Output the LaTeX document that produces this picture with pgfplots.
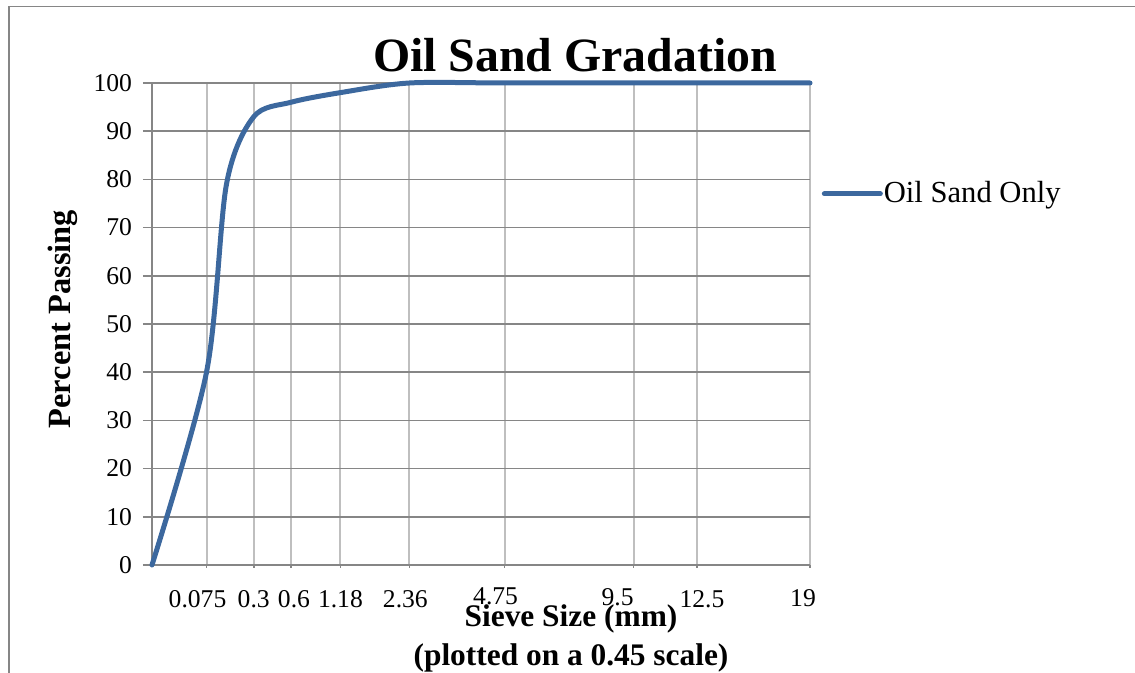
\documentclass[border=0pt]{standalone}
\usepackage{fontspec}
\setmainfont{Liberation Serif}
\usepackage{pgfplots}
\pgfplotsset{compat=1.18}
\definecolor{series}{RGB}{60,104,158}
\definecolor{gridH}{RGB}{134,134,134}
\definecolor{gridV}{RGB}{191,191,191}
% tick label nudged sideways by #1 and up by #2
\newcommand{\tl}[3]{\makebox[0pt]{\hspace{#1}\raisebox{#2}{#3}}}

\begin{document}
\begin{tikzpicture}
\useasboundingbox (0,0) rectangle (567.5pt,336.5pt);
% outer chart frame
\draw[gridH, line width=0.7pt] (4.5pt,0) -- (4.5pt,333.2pt) -- (567.5pt,333.2pt);
\begin{axis}[
  at={(76pt,54pt)}, anchor=south west,
  width=329pt, height=241pt, scale only axis,
  clip=false,
  xmin=0, xmax=3.76223, ymin=0, ymax=100,
  axis x line*=bottom, axis y line*=left,
  axis line style={-, gridH, line width=0.8pt},
  % sieve sizes placed at d^0.45
  xtick={0.31172,0.58172,0.79466,1.07733,1.47168,2.01613,2.75410,3.11609,3.76223},
  xticklabels={\tl{-9pt}{0pt}{0.075},\tl{0pt}{0pt}{0.3},\tl{3pt}{0pt}{0.6},
    \tl{0pt}{0pt}{1.18},\tl{-4pt}{0pt}{2.36},\tl{-9pt}{1.5pt}{4.75},
    \tl{-16pt}{1.2pt}{9.5},\tl{5pt}{0pt}{12.5},\tl{-7pt}{0.5pt}{19}},
  ytick={0,10,...,100},
  xmajorgrids, ymajorgrids,
  major x grid style={gridV, line width=1pt},
  major y grid style={gridH, line width=0.8pt},
  tick align=outside,
  major tick length=4.5pt,
  tick style={gridH, line width=0.8pt},
  xtick style={/pgfplots/major tick length=1.5pt},
  /pgf/number format/assume math mode=true,
  ticklabel style={font=\fontsize{12.8}{15}\selectfont},
  xticklabel style={anchor=base, yshift=-17pt},
  yticklabel style={xshift=-2pt},
  title={Oil Sand Gradation},
  title style={at={(axis description cs:0.6429,0.998)}, anchor=base,
    font=\bfseries\fontsize{23.9}{28}\selectfont},
  ylabel={Percent Passing},
  ylabel style={at={(axis description cs:-0.1353,0.510)}, anchor=center,
    font=\bfseries\fontsize{16.2}{19}\selectfont},
  xlabel={Sieve Size (mm)\\(plotted on a 0.45 scale)},
  xlabel style={at={(axis description cs:0.6368,-0.152)}, anchor=center,
    align=center, font=\bfseries\fontsize{15.7}{19.5}\selectfont},
  legend style={at={(axis description cs:1.018,0.770)}, anchor=west,
    draw=none, fill=none, inner sep=0pt, outer sep=0pt,
    font=\fontsize{15.3}{18}\selectfont,
    nodes={inner xsep=0.5pt, inner ysep=0pt}},
  legend cell align=left,
  legend image code/.code={\draw[#1] (0pt,0pt) -- (28pt,0pt);},
]
\addplot[series, line width=2.5pt, smooth, line cap=round, line join=round]
  coordinates {
  (0,0) (0.31172,40) (0.42585,79) (0.58172,93) (0.79466,96) (1.07733,98)
  (1.47168,100) (2.01613,100) (2.75410,100) (3.11609,100) (3.76223,100)};
\addlegendentry{Oil Sand Only}
\end{axis}
\end{tikzpicture}
\end{document}
